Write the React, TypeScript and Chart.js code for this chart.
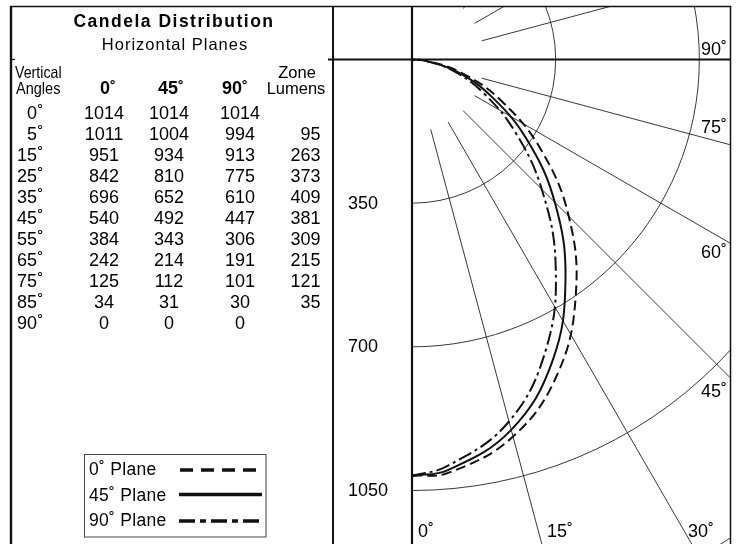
import React, { useEffect, useRef } from "react";
import { Chart, registerables } from "chart.js";

Chart.register(...registerables);

// ---------- data ----------
const VERTICAL_ANGLES = [0, 5, 15, 25, 35, 45, 55, 65, 75, 85, 90];
const PLANE_0 = [1014, 1011, 951, 842, 696, 540, 384, 242, 125, 34, 0];
const PLANE_45 = [1014, 1004, 934, 810, 652, 492, 343, 214, 112, 31, 0];
const PLANE_90 = [1014, 994, 913, 775, 610, 447, 306, 191, 101, 30, 0];
const ZONE_LUMENS: (number | null)[] = [null, 95, 263, 373, 409, 381, 309, 215, 121, 35, null];
const PLANE_HEADERS = ["0", "45", "90"];
const LEGEND_LABELS = ["0˚ Plane", "45˚ Plane", "90˚ Plane"];
const RING_VALUES = [350, 700, 1050, 1400];
const RING_LABELS = [350, 700, 1050];
const RAY_ANGLES = [15, 30, 45, 60, 75, 105, 120, 135, 150, 165];
const RAY_START = 176;
const TITLE = "Candela Distribution";
const SUBTITLE = "Horizontal Planes";

// ---------- layout ----------
const W = 736;
const H = 544;
const ORIGIN_X = 412;
const ORIGIN_Y = 59.5;
const PX_PER_CD = 0.4105;
const AREA = { left: 333, top: 6.5, right: 730.5, bottom: 544 };
const FONT = '"Liberation Sans", Arial, Helvetica, sans-serif';

const DEG = Math.PI / 180;
const toXY = (vals: number[]) =>
  VERTICAL_ANGLES.map((a, i) => ({ x: vals[i] * Math.sin(a * DEG), y: vals[i] * Math.cos(a * DEG) }));

type TOpts = { size?: number; bold?: boolean; align?: CanvasTextAlign; spacing?: number; scaleX?: number };
function txt(ctx: CanvasRenderingContext2D, s: string, x: number, y: number, o: TOpts = {}) {
  const { size = 18, bold = false, align = "left", spacing = 0, scaleX = 1 } = o;
  ctx.save();
  ctx.font = `${bold ? "bold " : ""}${size}px ${FONT}`;
  (ctx as any).letterSpacing = `${spacing}px`;
  ctx.fillStyle = "#000";
  ctx.textAlign = align;
  ctx.textBaseline = "alphabetic";
  ctx.translate(x, y);
  ctx.scale(scaleX, 1);
  ctx.fillText(s, 0, 0);
  ctx.restore();
}

function line(ctx: CanvasRenderingContext2D, x1: number, y1: number, x2: number, y2: number, w: number, dash: number[] = []) {
  ctx.save();
  ctx.strokeStyle = "#111";
  ctx.lineWidth = w;
  ctx.setLineDash(dash);
  ctx.beginPath();
  ctx.moveTo(x1, y1);
  ctx.lineTo(x2, y2);
  ctx.stroke();
  ctx.restore();
}

const DASH_0 = [10, 5];
const DASH_90 = [14, 4, 3, 4];

const polarPlugin = {
  id: "polarFrame",
  beforeDatasetsDraw(chart: any) {
    const { ctx, chartArea: a, scales } = chart;
    const xs = scales.x;
    const ys = scales.y;
    const cx = xs.getPixelForValue(0);
    const cy = ys.getPixelForValue(0);
    ctx.save();
    ctx.beginPath();
    ctx.rect(a.left, a.top, a.right - a.left, a.bottom - a.top);
    ctx.clip();
    ctx.strokeStyle = "#222";
    ctx.lineWidth = 0.9;
    RING_VALUES.forEach((v) => {
      const r = xs.getPixelForValue(v) - cx;
      ctx.beginPath();
      ctx.arc(cx, cy, r, -Math.PI / 2, Math.PI / 2);
      ctx.stroke();
    });
    RAY_ANGLES.forEach((deg) => {
      const s = Math.sin(deg * DEG);
      const c = Math.cos(deg * DEG);
      ctx.beginPath();
      ctx.moveTo(xs.getPixelForValue(RAY_START * s), ys.getPixelForValue(RAY_START * c));
      ctx.lineTo(xs.getPixelForValue(3000 * s), ys.getPixelForValue(3000 * c));
      ctx.stroke();
    });
    ctx.restore();
  },
  afterDatasetsDraw(chart: any) {
    const { ctx, chartArea: a, scales } = chart;
    const xs = scales.x;
    const ys = scales.y;
    const cx = xs.getPixelForValue(0);
    const cy = ys.getPixelForValue(0);

    // frame
    line(ctx, 11, 6, 11, H, 2.4);
    line(ctx, 10, 6.5, a.right + 0.7, 6.5, 1.5);
    line(ctx, 333, 6, 333, H, 2);
    line(ctx, a.right, 6, a.right, H, 1.5);
    line(ctx, 11, cy, 15, cy, 1.2);
    // axes
    line(ctx, cx, 6, cx, H, 2.2);
    line(ctx, 328, cy, a.right, cy, 2);

    // ring labels
    RING_LABELS.forEach((v) => {
      const py = ys.getPixelForValue(v);
      txt(ctx, String(v), 348, py + 5.5);
    });
    // angle labels
    txt(ctx, "90˚", 727, 55, { align: "right" });
    txt(ctx, "75˚", 727, 133, { align: "right" });
    txt(ctx, "60˚", 727, 258, { align: "right" });
    txt(ctx, "45˚", 727, 397, { align: "right" });
    txt(ctx, "0˚", 418, 537);
    txt(ctx, "15˚", 547, 537);
    txt(ctx, "30˚", 688, 537);

    // table
    txt(ctx, TITLE, 174, 27, { size: 17.5, bold: true, align: "center", spacing: 1.5 });
    txt(ctx, SUBTITLE, 175, 50, { size: 16.5, align: "center", spacing: 1.0 });
    txt(ctx, "Vertical", 15, 78, { size: 16.5, scaleX: 0.86 });
    txt(ctx, "Angles", 16, 94, { size: 16.5, scaleX: 0.88 });
    txt(ctx, "Zone", 297, 78, { size: 16.5, align: "center" });
    txt(ctx, "Lumens", 296, 94, { size: 16.5, align: "center" });
    const headerX = [108, 171, 235];
    PLANE_HEADERS.forEach((h, i) => txt(ctx, h + "˚", headerX[i], 94, { bold: true, align: "center" }));

    const colX = [104, 169, 240];
    const planes = [PLANE_0, PLANE_45, PLANE_90];
    VERTICAL_ANGLES.forEach((ang, r) => {
      const by = 118.5 + r * 21.05;
      txt(ctx, String(ang), 37, by, { align: "right" });
      txt(ctx, "˚", 37.5, by);
      planes.forEach((p, c) => txt(ctx, String(p[r]), colX[c], by, { align: "center" }));
      const z = ZONE_LUMENS[r];
      if (z !== null) txt(ctx, String(z), 320.5, by, { align: "right" });
    });

    // legend box
    ctx.save();
    ctx.strokeStyle = "#444";
    ctx.lineWidth = 1;
    ctx.strokeRect(84.5, 454.5, 181.5, 82.5);
    ctx.restore();
    const legY = [475, 500.5, 526];
    LEGEND_LABELS.forEach((l, i) => txt(ctx, l, 89, legY[i], { size: 17.5, spacing: 0.3 }));
    line(ctx, 180, 470, 257, 470, 3.4, [13, 8]);
    line(ctx, 179, 494.5, 262, 494.5, 3.4);
    line(ctx, 179, 521, 263, 521, 3.4, [16, 5, 6, 5]);
  },
};

export default function App() {
  const ref = useRef<HTMLCanvasElement>(null);
  useEffect(() => {
    if (!ref.current) return;
    const mk = (label: string, vals: number[], dash: number[]) => ({
      label,
      data: toXY(vals),
      showLine: true,
      fill: false,
      tension: 0.4,
      pointRadius: 0,
      borderWidth: 2,
      borderColor: "#111",
      borderDash: dash,
    });
    const chart = new Chart(ref.current, {
      type: "scatter",
      data: {
        datasets: [
          mk(LEGEND_LABELS[0], PLANE_0, DASH_0),
          mk(LEGEND_LABELS[1], PLANE_45, []),
          mk(LEGEND_LABELS[2], PLANE_90, DASH_90),
        ],
      },
      options: {
        responsive: false,
        animation: false,
        events: [],
        layout: { padding: { left: AREA.left, top: AREA.top, right: W - AREA.right, bottom: H - AREA.bottom } },
        scales: {
          x: {
            type: "linear",
            display: false,
            min: (AREA.left - ORIGIN_X) / PX_PER_CD,
            max: (AREA.right - ORIGIN_X) / PX_PER_CD,
          },
          y: {
            type: "linear",
            display: false,
            reverse: true,
            min: (AREA.top - ORIGIN_Y) / PX_PER_CD,
            max: (AREA.bottom - ORIGIN_Y) / PX_PER_CD,
          },
        },
        plugins: { legend: { display: false }, tooltip: { enabled: false }, title: { display: false } },
      },
      plugins: [polarPlugin],
    } as any);
    return () => chart.destroy();
  }, []);
  return (
    <div style={{ position: "fixed", left: 0, top: 0, width: W, height: H, background: "#fff" }}>
      <canvas ref={ref} width={W} height={H} style={{ display: "block", width: W, height: H }} />
    </div>
  );
}
